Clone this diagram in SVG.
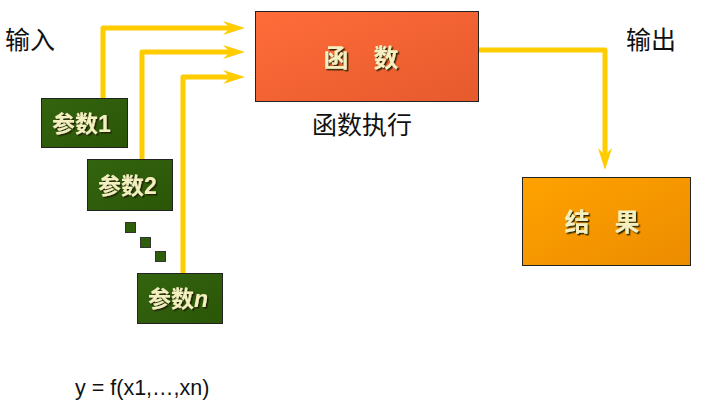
<svg xmlns="http://www.w3.org/2000/svg" width="707" height="401" viewBox="0 0 707 401">
<defs>
<linearGradient id="gFunc" x1="0" y1="0" x2="1" y2="1"><stop offset="0" stop-color="#ff6c3a"/><stop offset="1" stop-color="#e65a2c"/></linearGradient>
<linearGradient id="gRes" x1="0" y1="0" x2="1" y2="1"><stop offset="0" stop-color="#ffa200"/><stop offset="1" stop-color="#ec8c00"/></linearGradient>
<linearGradient id="gPar" x1="0" y1="0" x2="1" y2="1"><stop offset="0" stop-color="#346410"/><stop offset="1" stop-color="#2a5606"/></linearGradient>
<filter id="sh" x="-10%" y="-10%" width="130%" height="140%"><feDropShadow dx="1.5" dy="1.5" stdDeviation="0.6" flood-color="#1a1a00" flood-opacity="0.9"/></filter>
<marker id="ah" markerUnits="userSpaceOnUse" viewBox="0 0 22 14" refX="10" refY="7" markerWidth="22" markerHeight="14" orient="auto"><path d="M0,0 L22,7 L0,14 L7,7 Z" fill="#ffcc00"/></marker>
</defs>
<style>
.lbl{font-family:"Noto Sans CJK SC",sans-serif;font-size:25px;fill:#111}
.in{font-family:"Noto Sans CJK SC",sans-serif;font-weight:bold;fill:#f4efbf;filter:url(#sh)}
.num{font-family:"Liberation Sans",Arial,sans-serif;font-weight:bold}
.box{stroke:#222;stroke-width:1}
.con{fill:none;stroke:#ffcc00;stroke-width:5;stroke-linejoin:round;marker-end:url(#ah)}
.dot{fill:#2e5e0a;stroke:#333;stroke-width:1}
</style>
<text class="lbl" x="5" y="49">输入</text>
<text class="lbl" x="626" y="49">输出</text>
<g id="connectors">
<path class="con" d="M103,98 V28 H233"/>
<path class="con" d="M142,159 V52 H233"/>
<path class="con" d="M183,273 V77 H233"/>
<path class="con" d="M479,50 H605 V158"/>
</g>
<g id="func">
<rect class="box" x="255.5" y="11.5" width="223" height="90" fill="url(#gFunc)"/>
<text class="in" x="361" y="67" font-size="25" text-anchor="middle">函　数</text>
</g>
<text class="lbl" x="312" y="134" font-size="26">函数执行</text>
<g id="result">
<rect class="box" x="522.5" y="177.5" width="168" height="88" fill="url(#gRes)"/>
<text class="in" x="602" y="231" font-size="25" text-anchor="middle">结　果</text>
</g>
<g id="param1">
<rect class="box" x="41.5" y="98.5" width="86" height="49" fill="url(#gPar)"/>
<text class="in" x="52" y="132" font-size="23">参数<tspan class="num">1</tspan></text>
</g>
<g id="param2">
<rect class="box" x="87.5" y="159.5" width="85" height="51" fill="url(#gPar)"/>
<text class="in" x="98" y="194" font-size="23">参数<tspan class="num">2</tspan></text>
</g>
<g id="dots">
<rect class="dot" x="125.5" y="222.5" width="10" height="10"/>
<rect class="dot" x="140.5" y="237.5" width="10" height="10"/>
<rect class="dot" x="155.5" y="251.5" width="10" height="10"/>
</g>
<g id="paramn">
<rect class="box" x="137.5" y="273.5" width="85" height="50" fill="url(#gPar)"/>
<text class="in" x="148" y="307" font-size="23">参数<tspan class="num" font-style="italic">n</tspan></text>
</g>
<text x="75" y="395" font-family="'Liberation Sans',Arial,sans-serif" font-size="21.5" fill="#111">y = f(x1,…,xn)</text>
</svg>
